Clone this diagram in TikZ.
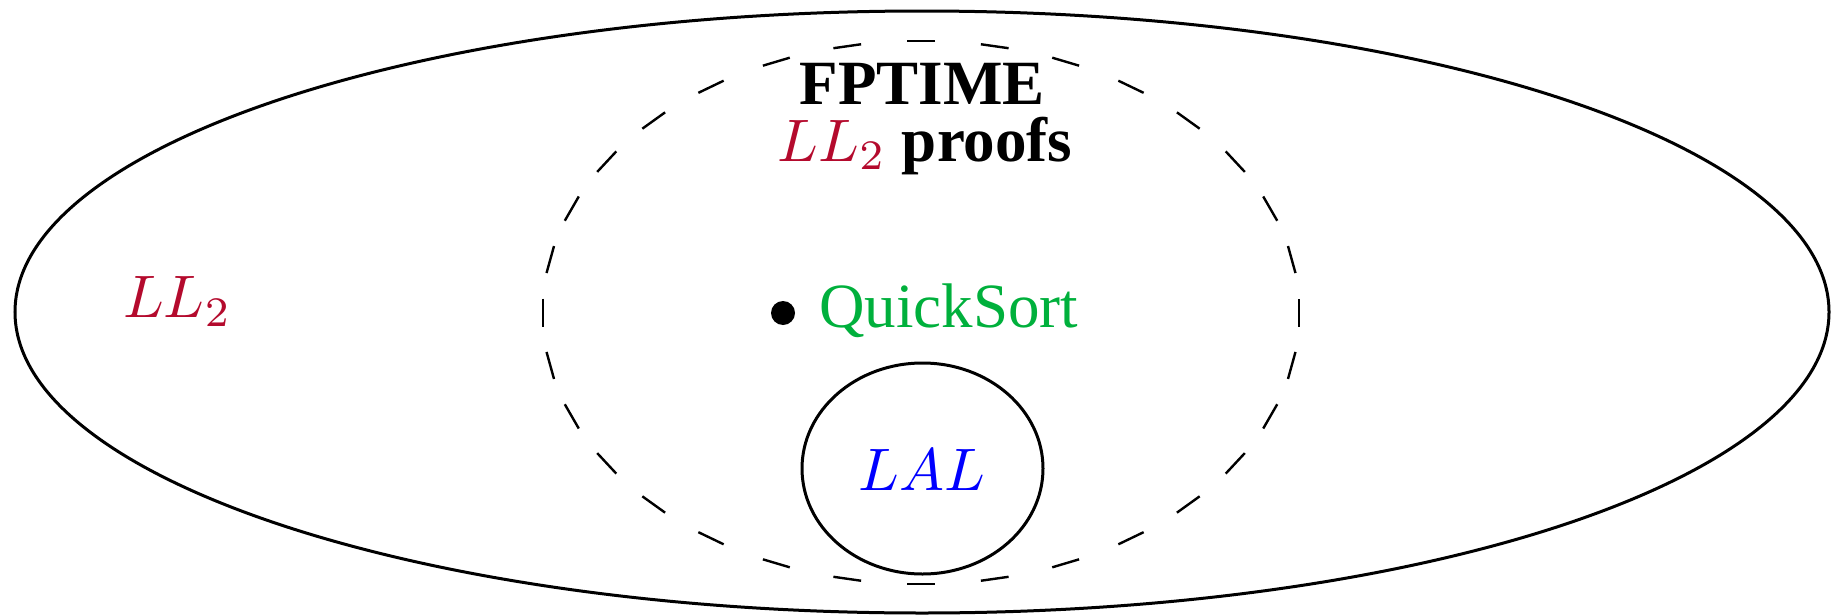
\documentclass[tikz,border=0pt]{standalone}
\usepackage{fontspec}
\setmainfont{Liberation Serif}
\definecolor{llred}{RGB}{180,10,45}
\definecolor{qsgreen}{RGB}{0,176,60}
\definecolor{lalblue}{RGB}{0,0,255}
\newcommand{\mathsz}{\fontsize{9.7}{11}\selectfont}
\tikzset{
  outline/.style={draw=black, line width=0.5pt},
  dashmark/.style={draw=black, line width=0.4pt},
  txt/.style={inner sep=0pt, font=\fontsize{10.5}{12}\selectfont},
}
\begin{document}
\begin{tikzpicture}[x=0.166667pt, y=-0.166667pt]
\useasboundingbox (0,0) rectangle (1835,615);
% outer ellipse (LL2)
\draw[outline] (922,312) ellipse [x radius=907, y radius=301];
% dashed FPTIME ellipse, 32 dashes at equal parametric angles
\foreach \k in {0,...,31}{
  \pgfmathsetmacro\t{\k*11.25}
  \pgfmathsetmacro\tx{-378*sin(\t)}
  \pgfmathsetmacro\ty{-271.5*cos(\t)}
  \pgfmathsetmacro\n{veclen(\tx,\ty)}
  \draw[dashmark] ({921+378*cos(\t)-14*\tx/\n},{312.5-271.5*sin(\t)-14*\ty/\n})
    -- ({921+378*cos(\t)+14*\tx/\n},{312.5-271.5*sin(\t)+14*\ty/\n});
}
% LAL ellipse
\draw[outline] (922.5,468.5) ellipse [x radius=120.5, y radius=105.5];
% bullet
\fill[black] (783,313) circle [radius=12];
% texts
\node[txt, anchor=base] (fp) at (922,105) {\bfseries FPTIME};
\node[txt, anchor=base] (pr) at (925,161) {{\mathsz$\color{llred}LL_2$} \bfseries proofs};
\node[txt, anchor=base west, text=qsgreen] (qs) at (818,327) {QuickSort};
\node[txt, anchor=base west, text=llred] (ll) at (122,317) {\mathsz$LL_2$};
\node[txt, anchor=base, text=lalblue] (lal) at (922,490) {\mathsz$LAL$};
\end{tikzpicture}
\end{document}
